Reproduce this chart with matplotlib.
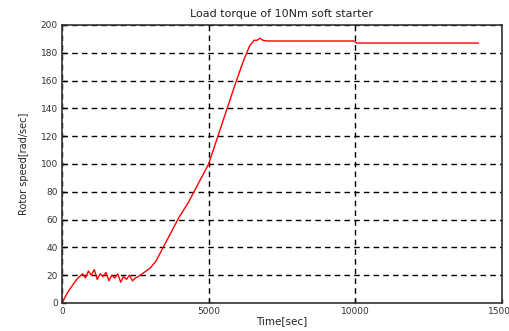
import matplotlib
matplotlib.use("Agg")
import matplotlib.pyplot as plt

# Rotor speed response
time_s = [0, 100, 200, 300, 400, 500, 600, 700, 800, 900, 1000, 1100, 1200, 1300,
          1400, 1500, 1600, 1700, 1800, 1900, 2000, 2100, 2200, 2300, 2400, 2500,
          2600, 2800, 3000, 3200, 3400, 3600, 3800, 4000, 4300, 4600, 5000, 5300,
          5600, 5900, 6200, 6400, 6550, 6650, 6750, 6850, 7000, 8000, 9000, 9950,
          10050, 11000, 12000, 13000, 14200]
speed = [0, 4, 8, 11, 14, 17, 19, 21, 18, 23, 20, 24, 17, 21,
         19, 22, 16, 20, 18, 21, 15, 19, 17, 20, 16, 18,
         19, 22, 25, 30, 38, 46, 54, 62, 72, 84, 100, 119,
         138, 157, 175, 185, 189, 189, 190.5, 189, 188.5, 188.5, 188.5, 188.5,
         187, 187, 187, 187, 187]

x_ticks = [0, 5000, 10000, 15000]
y_ticks = list(range(0, 201, 20))

fig = plt.figure(figsize=(5.1, 3.31), dpi=100)
ax = fig.add_axes([0.1216, 0.0846, 0.8624, 0.8399])

ax.plot(time_s, speed, color="red", lw=1.0)

ax.set_xlim(0, 15000)
ax.set_ylim(0, 200)
ax.set_xticks(x_ticks)
ax.set_yticks(y_ticks)
ax.tick_params(direction="in", labelsize=6.5, length=3, width=1,
               labelcolor="#333333", pad=3)
ax.grid(True, color="black", linestyle=(0, (4, 3)), lw=1)
for s in ax.spines.values():
    s.set_linewidth(1.2)
    s.set_color("#333333")

ax.set_title("Load torque of 10Nm soft starter", fontsize=8, pad=6, color="#222222")
ax.set_xlabel("Time[sec]", fontsize=7.5, labelpad=0, color="#222222")
ax.set_ylabel("Rotor speed[rad/sec]", fontsize=7, labelpad=8, color="#222222")

fig.savefig("out.png", dpi=100)
